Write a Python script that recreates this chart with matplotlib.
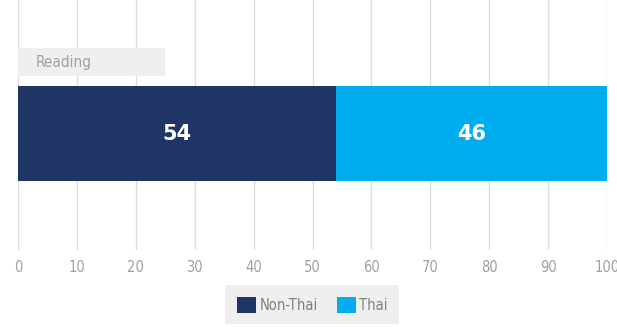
import matplotlib
matplotlib.use("Agg")
import matplotlib.pyplot as plt
from matplotlib.patches import Patch

subject = "Reading"
groups = ["Non-Thai", "Thai"]
shares = [54, 46]
colors = ["#1f3566", "#00adef"]
ticks = [0, 10, 20, 30, 40, 50, 60, 70, 80, 90, 100]

font = {"family": "DejaVu Sans", "stretch": "condensed"}

fig = plt.figure(figsize=(6.17, 3.27), dpi=100)
ax = fig.add_axes([18 / 617, 1 - 250 / 327, 589 / 617, 250 / 327])

# stacked horizontal bar
left = 0
for name, val, col in zip(groups, shares, colors):
    ax.barh(0.466, val, height=0.38, left=left, color=col, zorder=3)
    ax.text(left + val / 2, 0.466, str(val), ha="center", va="center",
            color="white", fontsize=15, fontweight="bold",
            family="DejaVu Sans", zorder=4)
    left += val

# subject label box
ax.barh(0.752, 25, height=0.112, left=0, color="#efefef", zorder=2)
ax.text(3, 0.752, subject, ha="left", va="center", color="#a0a0a0",
        fontsize=11, zorder=4, **font)

ax.set_xlim(0, 100)
ax.set_ylim(0, 1)
ax.set_xticks(ticks)
ax.set_yticks([])
ax.grid(axis="x", color="#dddddd", linewidth=1, zorder=0)
ax.tick_params(axis="x", length=0, pad=7, labelcolor="#a0a0a0", labelsize=10.5)
for lbl in ax.get_xticklabels():
    lbl.set_family(font["family"])
    lbl.set_stretch(font["stretch"])
for s in ax.spines.values():
    s.set_visible(False)

handles = [Patch(facecolor=c, edgecolor="none") for c in colors]
leg = fig.legend(handles, groups, loc="lower center", bbox_to_anchor=(0.506, -0.014),
                 ncol=2, frameon=True, fancybox=False, facecolor="#efefef",
                 edgecolor="none", framealpha=1, handlelength=1.3, handleheight=1.3,
                 handletextpad=0.25, columnspacing=1.3, borderpad=0.8,
                 prop={"size": 10.5, **font})
for t in leg.get_texts():
    t.set_color("#808080")

fig.savefig("out.png", dpi=100)
